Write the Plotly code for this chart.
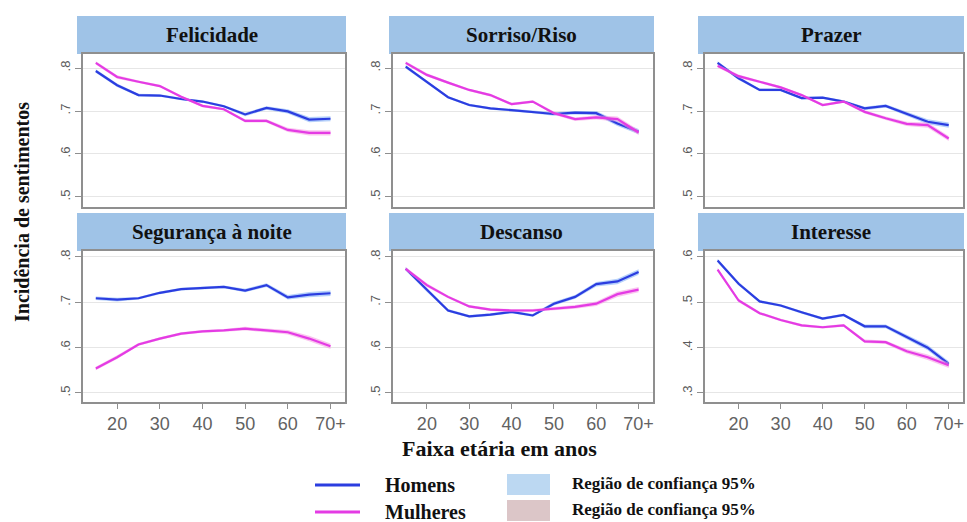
import plotly.graph_objects as go

# Age groups (x) and tick labels
ages = [15, 20, 25, 30, 35, 40, 45, 50, 55, 60, 65, 70]
age_ticks = [20, 30, 40, 50, 60, 70]
age_tick_text = ["20", "30", "40", "50", "60", "70+"]

panel_titles = ["Felicidade", "Sorriso/Riso", "Prazer",
                "Segurança à noite", "Descanso", "Interesse"]

# Mean incidence by age group, men
felicidade_h = [0.793, 0.760, 0.737, 0.736, 0.728, 0.722, 0.711, 0.692, 0.707, 0.699, 0.680, 0.682]
sorriso_h = [0.803, 0.768, 0.732, 0.714, 0.706, 0.702, 0.698, 0.693, 0.696, 0.695, 0.671, 0.652]
prazer_h = [0.812, 0.776, 0.749, 0.749, 0.730, 0.731, 0.722, 0.706, 0.712, 0.693, 0.675, 0.667]
seguranca_h = [0.709, 0.706, 0.709, 0.721, 0.729, 0.731, 0.734, 0.726, 0.738, 0.711, 0.717, 0.720]
descanso_h = [0.774, 0.727, 0.682, 0.669, 0.673, 0.679, 0.671, 0.697, 0.712, 0.740, 0.746, 0.767]
interesse_h = [0.592, 0.541, 0.502, 0.493, 0.478, 0.464, 0.472, 0.447, 0.447, 0.423, 0.400, 0.364]

# Mean incidence by age group, women
felicidade_m = [0.812, 0.779, 0.768, 0.758, 0.733, 0.712, 0.704, 0.677, 0.677, 0.656, 0.649, 0.649]
sorriso_m = [0.812, 0.784, 0.766, 0.749, 0.737, 0.716, 0.722, 0.695, 0.681, 0.685, 0.681, 0.650]
prazer_m = [0.805, 0.781, 0.768, 0.755, 0.737, 0.714, 0.722, 0.698, 0.683, 0.670, 0.667, 0.636]
seguranca_m = [0.554, 0.579, 0.607, 0.620, 0.631, 0.636, 0.638, 0.642, 0.638, 0.634, 0.620, 0.603]
descanso_m = [0.774, 0.738, 0.712, 0.691, 0.684, 0.682, 0.682, 0.686, 0.690, 0.697, 0.718, 0.728]
interesse_m = [0.572, 0.504, 0.476, 0.461, 0.449, 0.445, 0.449, 0.414, 0.412, 0.392, 0.379, 0.361]

# Half-width of the 95% confidence band by age group
ci_half_h = [0.004, 0.004, 0.003, 0.003, 0.003, 0.003, 0.003, 0.004, 0.004, 0.005, 0.006, 0.006]
ci_half_m = [0.004, 0.004, 0.003, 0.003, 0.003, 0.003, 0.003, 0.004, 0.004, 0.005, 0.006, 0.006]

men = [felicidade_h, sorriso_h, prazer_h, seguranca_h, descanso_h, interesse_h]
women = [felicidade_m, sorriso_m, prazer_m, seguranca_m, descanso_m, interesse_m]

y_ticks_std = [0.5, 0.6, 0.7, 0.8]
y_ticks_std_text = [".5", ".6", ".7", ".8"]
y_ticks_int = [0.3, 0.4, 0.5, 0.6]
y_ticks_int_text = [".3", ".4", ".5", ".6"]

W, H = 967, 522
BLUE = "#2b3de0"
MAGENTA = "#e43be4"
BAND_BLUE = "rgba(120,170,245,0.55)"
BAND_PINK = "rgba(245,150,225,0.55)"
FRAME = "#8f8f8f"
STRIP = "#9fc3e7"
SERIF = "Liberation Serif"


def fx(px):
    return px / W


def fy(py):
    return 1 - py / H


# plot-region pixel boxes (left, right) per column and (top, bottom) per row
cols = [(83, 345), (393, 653), (705, 963)]
rows = [(54, 207), (251, 402)]
strip_cols = [(77, 346), (389, 654), (698, 964)]
strip_rows = [(16, 54), (213, 251)]
y_ranges = [[0.4767, 0.8326], [0.4767, 0.8326], [0.4767, 0.8326],
            [0.4801, 0.8132], [0.4801, 0.8132], [0.2801, 0.6132]]

fig = go.Figure()
layout = {}
shapes = []
annotations = []

for i in range(6):
    r, c = divmod(i, 3)
    n = i + 1
    xa = "x" if n == 1 else f"x{n}"
    ya = "y" if n == 1 else f"y{n}"

    for series, half, band, col in ((men[i], ci_half_h, BAND_BLUE, BLUE),
                                    (women[i], ci_half_m, BAND_PINK, MAGENTA)):
        lo = [v - h for v, h in zip(series, half)]
        hi = [v + h for v, h in zip(series, half)]
        fig.add_trace(go.Scatter(x=ages, y=lo, mode="lines", line=dict(width=0),
                                 xaxis=xa, yaxis=ya, showlegend=False, hoverinfo="skip"))
        fig.add_trace(go.Scatter(x=ages, y=hi, mode="lines", line=dict(width=0),
                                 fill="tonexty", fillcolor=band,
                                 xaxis=xa, yaxis=ya, showlegend=False, hoverinfo="skip"))
        fig.add_trace(go.Scatter(x=ages, y=series, mode="lines",
                                 line=dict(color=col, width=2.2),
                                 xaxis=xa, yaxis=ya, showlegend=False))

    bottom = r == 1
    layout["xaxis" if n == 1 else f"xaxis{n}"] = dict(
        domain=[fx(cols[c][0]), fx(cols[c][1])],
        anchor=ya, range=[12.0, 73.4],
        showline=True, linecolor=FRAME, linewidth=1.5, mirror=True,
        showgrid=False, zeroline=False,
        tickvals=age_ticks, ticktext=age_tick_text,
        ticks="outside" if bottom else "", ticklen=5, tickcolor=FRAME,
        showticklabels=bottom,
        tickfont=dict(family="Liberation Sans", size=18, color="#626262"),
    )
    tv, tt = (y_ticks_int, y_ticks_int_text) if i == 5 else (y_ticks_std, y_ticks_std_text)
    layout["yaxis" if n == 1 else f"yaxis{n}"] = dict(
        domain=[fy(rows[r][1]), fy(rows[r][0])],
        anchor=xa, range=y_ranges[i],
        showline=True, linecolor=FRAME, linewidth=1.5, mirror=True,
        showgrid=True, gridcolor="#e6e6e6", gridwidth=1, zeroline=False,
        tickvals=tv, ticktext=tt, tickangle=-90,
        ticks="outside", ticklen=6, tickcolor=FRAME,
        tickfont=dict(family="Liberation Sans", size=13, color="#5a5a5a"),
    )

    # title strip
    sx0, sx1 = strip_cols[c]
    sy0, sy1 = strip_rows[r]
    shapes.append(dict(type="rect", xref="paper", yref="paper",
                       x0=fx(sx0), x1=fx(sx1), y0=fy(sy1), y1=fy(sy0),
                       fillcolor=STRIP, line=dict(width=0), layer="below"))
    annotations.append(dict(text=f"<b>{panel_titles[i]}</b>", xref="paper", yref="paper",
                            x=fx((sx0 + sx1) / 2), y=fy((sy0 + sy1) / 2),
                            xanchor="center", yanchor="middle", showarrow=False,
                            font=dict(family=SERIF, size=21, color="#111")))

# axis titles
annotations.append(dict(text="<b>Incidência de sentimentos</b>", xref="paper", yref="paper",
                        x=fx(22), y=fy(212), textangle=-90, showarrow=False,
                        xanchor="center", yanchor="middle",
                        font=dict(family=SERIF, size=20, color="#111")))
annotations.append(dict(text="<b>Faixa etária em anos</b>", xref="paper", yref="paper",
                        x=fx(499), y=fy(448), showarrow=False,
                        xanchor="center", yanchor="middle",
                        font=dict(family=SERIF, size=22, color="#111")))

# legend
legend_rows = [(485, BLUE, "Homens", "#bcd8f2", 483), (512, MAGENTA, "Mulheres", "#dcc6c8", 509)]
for ly, lcol, lname, sq, ty in legend_rows:
    shapes.append(dict(type="line", xref="paper", yref="paper",
                       x0=fx(315), x1=fx(360), y0=fy(ly), y1=fy(ly),
                       line=dict(color=lcol, width=3)))
    annotations.append(dict(text=f"<b>{lname}</b>", xref="paper", yref="paper",
                            x=fx(383), y=fy(ly), xanchor="left", yanchor="middle",
                            showarrow=False, font=dict(family=SERIF, size=20, color="#111")))
    shapes.append(dict(type="rect", xref="paper", yref="paper",
                       x0=fx(507), x1=fx(550), y0=fy(ty + 12), y1=fy(ty - 9),
                       fillcolor=sq, line=dict(width=0)))
    annotations.append(dict(text="<b>Região de confiança 95%</b>", xref="paper", yref="paper",
                            x=fx(570), y=fy(ty), xanchor="left", yanchor="middle",
                            showarrow=False, font=dict(family=SERIF, size=17, color="#111")))

fig.update_layout(
    width=W, height=H,
    margin=dict(l=0, r=0, t=0, b=0),
    paper_bgcolor="white", plot_bgcolor="white",
    showlegend=False,
    shapes=shapes, annotations=annotations,
    **layout,
)

fig.write_html("out.html")
